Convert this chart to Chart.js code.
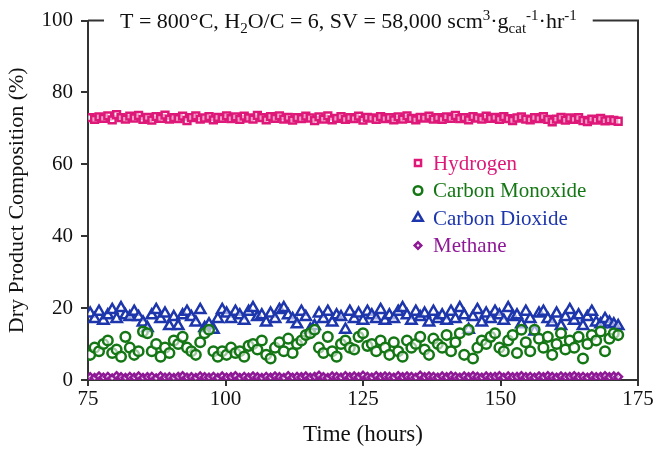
<!DOCTYPE html>
<html>
<head>
<meta charset="utf-8">
<script src="https://cdn.jsdelivr.net/npm/chart.js@4/dist/chart.umd.min.js"></script>
<style>
  body { margin: 0; background: #fff; }
  #wrap { width: 656px; height: 449px; }
</style>
</head>
<body>
<div id="wrap"><canvas id="c"></canvas></div>
<script>
const hours = [
  75.4, 76.2, 77.0, 77.8, 78.6, 79.4, 80.2, 81.0, 81.8, 82.6,
  83.4, 84.2, 85.0, 85.8, 86.6, 87.4, 88.2, 89.0, 89.8, 90.6,
  91.4, 92.2, 93.0, 93.8, 94.6, 95.4, 96.2, 97.0, 97.8, 98.6,
  99.4, 100.2, 101.0, 101.8, 102.6, 103.4, 104.2, 105.0, 105.8, 106.6,
  107.4, 108.2, 109.0, 109.8, 110.6, 111.4, 112.2, 113.0, 113.8, 114.6,
  115.4, 116.2, 117.0, 117.8, 118.6, 119.4, 120.2, 121.0, 121.8, 122.6,
  123.4, 124.2, 125.0, 125.8, 126.6, 127.4, 128.2, 129.0, 129.8, 130.6,
  131.4, 132.2, 133.0, 133.8, 134.6, 135.4, 136.2, 137.0, 137.8, 138.6,
  139.4, 140.2, 141.0, 141.8, 142.6, 143.4, 144.2, 145.0, 145.8, 146.6,
  147.4, 148.2, 149.0, 149.8, 150.6, 151.4, 152.2, 153.0, 153.8, 154.6,
  155.4, 156.2, 157.0, 157.8, 158.6, 159.4, 160.2, 161.0, 161.8, 162.6,
  163.4, 164.2, 165.0, 165.8, 166.6, 167.4, 168.2, 169.0, 169.8, 170.6,
  171.4
];

const hydrogen = [
  73, 72.5, 73.2, 72.8, 73.5, 72.4, 73.8, 73, 72.6, 73.4,
  72.9, 73.6, 72.5, 73.1, 72.3, 73.3, 72.8, 73.7, 72.6, 73,
  72.7, 73.4, 72.2, 73, 73.5, 72.6, 72.9, 73.3, 72.4, 73.1,
  72.8, 73.5, 72.7, 73.2, 72.5, 73.4, 72.9, 72.6, 73.6, 73,
  72.4, 73.3, 72.8, 73.5, 72.6, 73.1, 72.3, 73, 72.7, 73.4,
  72.9, 72.2, 73.2, 72.6, 73.5, 72.4, 72.8, 73.3, 72.5, 73,
  72.7, 73.4, 72.3, 73.1, 72.9, 72.5, 73.3, 72.7, 73, 72.4,
  73.2, 72.6, 73.5, 72.8, 72.4, 73.1, 72.9, 73.4, 72.6, 73,
  72.5, 73.2, 72.8, 73.6, 72.7, 73, 72.4, 73.3, 72.9, 72.6,
  73.4, 72.8, 73.1, 72.5, 73.3, 72.7, 72.2, 72.9, 73.2, 72.6,
  72.4, 73, 72.7, 73.3, 72.5, 71.8, 72.6, 73.1, 72.3, 72.9,
  72.5, 73, 72.2, 71.9, 72.6, 72.3, 72.8, 72.1, 72.4, 72.2,
  72
];

const carbonMonoxide = [
  7, 9, 8, 10, 11, 7.5, 8.5, 6.5, 12, 9,
  7, 8, 13.5, 13, 8, 10, 6.5, 9, 7.5, 11,
  10, 12, 9, 8, 7, 10.5, 13, 14, 8, 6.5,
  8, 7, 9, 7.5, 8, 6.5, 9.5, 10, 8.5, 11,
  7, 6, 9, 10.5, 8, 11.5, 7.5, 10, 11, 12.5,
  13, 14, 9, 7.5, 12, 8, 6.5, 10, 11, 9,
  8.5, 12, 13, 9.5, 10, 8, 11, 9, 7, 10.5,
  8, 6.5, 11, 9, 10, 12, 8.5, 7, 11.5, 10,
  9, 12.5, 8, 10.5, 13, 7, 14, 6, 9, 11,
  10, 12, 13, 9, 8, 11, 12.5, 7.5, 14, 10.5,
  8, 14, 11.5, 9, 12, 7, 10, 13, 8.5, 11,
  9, 12, 6, 10, 12.5, 11, 13.5, 8, 11.5, 13,
  12.5
];

const carbonDioxide = [
  18.5, 17, 19, 16.5, 18, 19.5, 17, 20, 18, 17.5,
  19, 17.5, 16, 14.5, 18, 19.5, 17, 18.5, 15, 17.5,
  15, 18, 19, 17.5, 16, 19.5, 14.5, 15.5, 14, 17,
  19.5, 18.5, 17, 19, 18, 16.5, 19, 20, 17.5, 18,
  16, 18.5, 17, 19.5, 20, 18, 17, 15.5, 19, 17.5,
  14, 15, 18.5, 17, 19, 16, 18, 17.5, 14, 19,
  17, 18.5, 16.5, 19, 18, 17, 19.5, 16.5, 18, 17,
  19, 20, 18, 16.5, 19, 17.5, 18.5, 16, 19, 17,
  18, 16.5, 19, 17, 20, 18, 14, 17.5, 19.5, 16,
  18.5, 17, 19, 18, 16.5, 20, 17.5, 18, 15.5, 19,
  17, 13.5, 18.5, 19, 17, 16, 18.5, 15, 17.5, 19.5,
  16.5, 18, 15, 17.5, 19, 16, 15.5, 17, 16, 15.5,
  15
];

const methane = [
  0.8, 0.6, 1.0, 0.7, 0.9, 0.5, 1.1, 0.8, 0.6, 0.9,
  0.7, 1.0, 0.6, 0.8, 0.9, 0.5, 1.0, 0.7, 0.8, 0.6,
  0.9, 1.1, 0.7, 0.8, 0.6, 1.0, 0.8, 0.7, 0.9, 0.6,
  1.0, 0.7, 0.8, 1.1, 0.6, 0.9, 0.7, 1.0, 0.8, 0.6,
  0.9, 0.7, 1.0, 0.8, 0.6, 1.1, 0.7, 0.9, 0.8, 1.0,
  0.7, 0.9, 1.2, 0.8, 0.6, 1.0, 0.9, 0.7, 1.1, 0.8,
  1.0, 0.8, 1.2, 0.9, 0.7, 1.1, 0.8, 1.0, 0.9, 0.7,
  1.1, 0.8, 1.0, 0.9, 0.7, 1.2, 0.8, 1.0, 0.9, 0.7,
  1.0, 0.8, 1.1, 0.9, 0.7, 1.0, 0.8, 1.1, 0.9, 0.7,
  1.0, 0.8, 0.9, 1.1, 0.7, 1.0, 0.8, 0.9, 1.1, 0.8,
  0.9, 0.7, 1.0, 0.8, 1.1, 0.9, 0.7, 1.0, 0.8, 0.9,
  1.1, 0.8, 0.9, 0.7, 1.0, 0.8, 0.9, 1.1, 0.8, 1.0,
  0.9
];

const seriesNames = ['Hydrogen', 'Carbon Monoxide', 'Carbon Dioxide', 'Methane'];
const xTicks = [75, 100, 125, 150, 175];
const yTicks = [0, 20, 40, 60, 80, 100];

const SERIF = '"Liberation Serif", "Times New Roman", serif';
const axisColor = '#333';

function pts(vals) {
  return vals.map((v, i) => ({ x: hours[i], y: v }));
}

// title with sub/superscripts, drawn in the gap of the top frame line
const titleParts = [
  ['T = 800°C, H', 0], ['2', 1], ['O/C = 6, SV = 58,000 scm', 0], ['3', -1],
  ['·g', 0], ['cat', 1], ['-1', -1], ['·hr', 0], ['-1', -1]
];

const framePlugin = {
  id: 'frame',
  afterDraw(chart) {
    const ctx = chart.ctx;
    const a = chart.chartArea;
    ctx.save();
    // title
    const big = '22px ' + SERIF, small = '15px ' + SERIF;
    let x = 120;
    const base = a.top + 7;
    ctx.fillStyle = '#111';
    ctx.textBaseline = 'alphabetic';
    titleParts.forEach(p => {
      ctx.font = p[1] ? small : big;
      const dy = p[1] === 1 ? 5 : (p[1] === -1 ? -8 : 0);
      ctx.fillText(p[0], x, base + dy);
      x += ctx.measureText(p[0]).width;
    });
    // right axis and top frame pieces
    ctx.strokeStyle = axisColor;
    ctx.lineWidth = 2;
    ctx.beginPath();
    ctx.moveTo(a.right, a.bottom + 1);
    ctx.lineTo(a.right, a.top);
    ctx.lineTo(Math.min(x + 16, a.right - 30), a.top);
    ctx.moveTo(a.left, a.top);
    ctx.lineTo(104, a.top);
    ctx.stroke();

    // legend
    const lx = 418, ly = 163, gap = 27.5;
    chart.data.datasets.forEach((ds, i) => {
      const y = ly + i * gap;
      ctx.strokeStyle = ds.borderColor;
      ctx.fillStyle = '#fff';
      ctx.lineWidth = 2.5;
      Chart.helpers.drawPoint(ctx, { pointStyle: ds.pointStyle, radius: ds.pointRadius - 0.5, borderWidth: 2.5 }, lx, y);
      ctx.fillStyle = ds.borderColor;
      ctx.font = '21px ' + SERIF;
      ctx.textBaseline = 'middle';
      ctx.fillText(ds.label, lx + 15, y + 1);
    });
    ctx.restore();
  }
};

const colors = ['rgb(222,24,120)', 'rgb(20,118,20)', 'rgb(30,54,172)', 'rgb(142,24,150)'];
const styles = ['rect', 'circle', 'triangle', 'rectRot'];
const radii = [4.8, 4.8, 6, 3.8];
const values = [hydrogen, carbonMonoxide, carbonDioxide, methane];

new Chart(document.getElementById('c'), {
  type: 'scatter',
  data: {
    datasets: values.map((v, i) => ({
      label: seriesNames[i],
      data: pts(v),
      borderColor: colors[i],
      backgroundColor: 'rgba(255,255,255,0.6)',
      pointStyle: styles[i],
      pointRadius: radii[i],
      pointBorderWidth: 2.5,
      showLine: false
    }))
  },
  options: {
    responsive: true,
    maintainAspectRatio: false,
    animation: false,
    layout: { padding: { left: 0, right: 18, top: 20, bottom: 0 } },
    plugins: { legend: { display: false }, tooltip: { enabled: false } },
    scales: {
      x: {
        type: 'linear',
        min: 75, max: 175,
        afterBuildTicks: s => { s.ticks = xTicks.map(v => ({ value: v })); },
        afterFit: s => { s.height = 69; },
        grid: { drawOnChartArea: false, drawTicks: true, tickLength: 6, color: axisColor, lineWidth: 2 },
        border: { color: axisColor, width: 2 },
        ticks: { color: '#111', font: { family: SERIF, size: 21 }, padding: 1, maxRotation: 0 },
        title: { display: true, text: 'Time (hours)', color: '#111', font: { family: SERIF, size: 23 }, padding: { top: 0, bottom: 0 } }
      },
      y: {
        min: 0, max: 100,
        afterBuildTicks: s => { s.ticks = yTicks.map(v => ({ value: v })); },
        afterFit: s => { s.width = 88; },
        grid: { drawOnChartArea: false, drawTicks: true, tickLength: 7, color: axisColor, lineWidth: 2 },
        border: { color: axisColor, width: 2 },
        ticks: { color: '#111', font: { family: SERIF, size: 21 }, padding: 8 },
        title: { display: true, text: 'Dry Product Composition (%)', color: '#111', font: { family: SERIF, size: 22 }, padding: { top: 4, bottom: 0 } }
      }
    }
  },
  plugins: [framePlugin]
});
</script>
</body>
</html>
